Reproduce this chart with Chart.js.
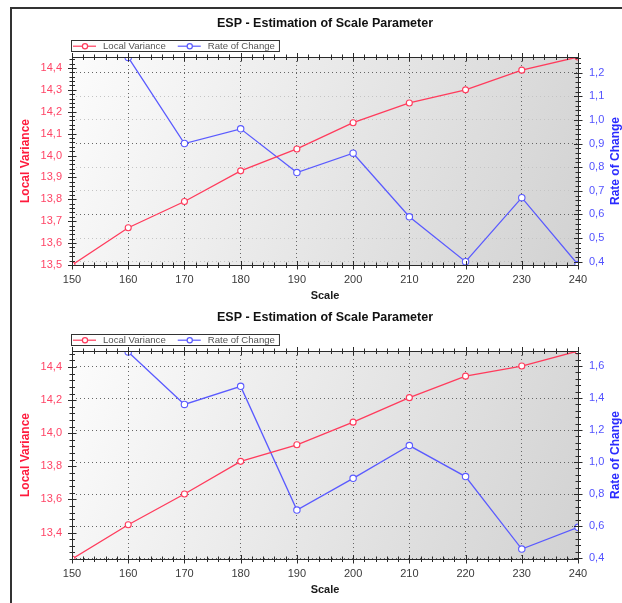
<!DOCTYPE html>
<html><head><meta charset="utf-8">
<script src="https://cdn.jsdelivr.net/npm/chart.js@4/dist/chart.umd.min.js"></script>
<style>
html,body{margin:0;padding:0;background:#fff;}
body{width:622px;height:603px;position:relative;overflow:hidden;}
#frame{position:absolute;left:10px;top:7px;width:700px;height:700px;border-top:2px solid #333;border-left:2px solid #333;}
.wrap{position:absolute;left:0;width:622px;height:303px;}
canvas{display:block;}
</style></head><body>
<div id="frame"></div>
<div class="wrap" style="top:0"><canvas id="c1" width="622" height="303"></canvas></div>
<div class="wrap" style="top:294px"><canvas id="c2" width="622" height="303"></canvas></div>
<script>
// ---- data ----
const chartTitle = 'ESP - Estimation of Scale Parameter';
const seriesNames = ['Local Variance', 'Rate of Change'];
const xAxisTitle = 'Scale';
const scaleValues = [150, 160, 170, 180, 190, 200, 210, 220, 230, 240];
const xTicks = [150, 160, 170, 180, 190, 200, 210, 220, 230, 240];

const topLocalVariance = [13.50, 13.67, 13.79, 13.93, 14.03, 14.15, 14.24, 14.30, 14.39, 14.45];
const topRateOfChange  = [null, 1.264, 0.90, 0.962, 0.777, 0.859, 0.59, 0.40, 0.671, 0.388];
const topLeftTicks  = [13.5, 13.6, 13.7, 13.8, 13.9, 14.0, 14.1, 14.2, 14.3, 14.4];
const topRightTicks = [0.4, 0.5, 0.6, 0.7, 0.8, 0.9, 1.0, 1.1, 1.2];
const topLeftRange  = [13.5, 14.45];
const topRightRange = [0.386, 1.266];

const bottomLocalVariance = [13.24, 13.447, 13.633, 13.83, 13.93, 14.067, 14.215, 14.345, 14.406, 14.497];
const bottomRateOfChange  = [null, 1.688, 1.36, 1.473, 0.70, 0.898, 1.103, 0.909, 0.456, 0.592];
const bottomLeftTicks  = [13.4, 13.6, 13.8, 14.0, 14.2, 14.4];
const bottomRightTicks = [0.4, 0.6, 0.8, 1.0, 1.2, 1.4, 1.6];
const bottomLeftRange  = [13.24, 14.497];
const bottomRightRange = [0.394, 1.694];

// ---- styling ----
const RED_LINE = '#ff3b5c', RED_TEXT = '#ff4466', RED_TITLE = '#ff1a3c';
const BLUE_LINE = '#5a5aff', BLUE_TEXT = '#5252ff', BLUE_TITLE = '#2a2aff';
const FONT = "'Liberation Sans', Arial, sans-serif";

function fmt(v){ return v.toFixed(1).replace('.', ','); }
function minorValues(ticks, min, max){
  const step = (ticks[1] - ticks[0]) / 5;
  const out = [];
  let start = ticks[0] - Math.floor((ticks[0] - min) / step + 1e-9) * step;
  for (let v = start; v <= max + 1e-9; v += step) out.push(v);
  return out;
}
function isMajor(v, ticks){ return ticks.some(t => Math.abs(t - v) < 1e-6); }

const decor = {
  id: 'decor',
  beforeDraw(chart){
    const {ctx, chartArea: a} = chart;
    const g = ctx.createLinearGradient(a.left, a.top, a.right, a.bottom);
    g.addColorStop(0, '#fcfcfc');
    g.addColorStop(1, '#d2d2d2');
    ctx.save();
    ctx.fillStyle = g;
    ctx.fillRect(a.left, a.top, a.right - a.left, a.bottom - a.top);
    ctx.restore();
  },
  afterDraw(chart, args, o){
    const {ctx, chartArea: a, scales} = chart;
    ctx.save();
    ctx.strokeStyle = '#2a2a2a';
    ctx.lineWidth = 1;
    ctx.strokeRect(a.left + 0.5, a.top + 0.5, a.right - a.left, a.bottom - a.top);
    ctx.beginPath();
    const xs = scales.x;
    minorValues(o.xTicks, xs.min, xs.max).forEach(v => {
      const p = Math.round(xs.getPixelForValue(v)) + 0.5;
      const len = isMajor(v, o.xTicks) ? 4 : 2.5;
      ctx.moveTo(p, a.bottom - len); ctx.lineTo(p, a.bottom + len + 0.5);
      ctx.moveTo(p, a.top - len); ctx.lineTo(p, a.top + len + 0.5);
    });
    const yl = scales.y;
    minorValues(o.leftTicks, yl.min, yl.max).forEach(v => {
      const p = Math.round(yl.getPixelForValue(v)) + 0.5;
      const len = isMajor(v, o.leftTicks) ? 4 : 2.5;
      ctx.moveTo(a.left - len, p); ctx.lineTo(a.left + len + 0.5, p);
    });
    const yr = scales.y1;
    minorValues(o.rightTicks, yr.min, yr.max).forEach(v => {
      const p = Math.round(yr.getPixelForValue(v)) + 0.5;
      const len = isMajor(v, o.rightTicks) ? 4 : 2.5;
      ctx.moveTo(a.right - len, p); ctx.lineTo(a.right + len + 0.5, p);
    });
    ctx.stroke();

    // title centred over plot area
    ctx.fillStyle = '#111';
    ctx.font = 'bold 12.5px ' + FONT;
    ctx.textAlign = 'center';
    ctx.textBaseline = 'middle';
    ctx.fillText(o.title, (a.left + a.right) / 2, a.top - 33);

    // legend with frame
    ctx.font = '9.6px ' + FONT;
    ctx.textAlign = 'left';
    const ly = a.top - 10.8;
    let x0 = a.left + 1;
    const items = chart.data.datasets.map(d => ({label: d.label, color: d.borderColor}));
    let endX = x0;
    items.forEach(it => {
      ctx.strokeStyle = it.color; ctx.lineWidth = 1.2;
      ctx.beginPath(); ctx.moveTo(x0, ly); ctx.lineTo(x0 + 23, ly); ctx.stroke();
      ctx.beginPath(); ctx.arc(x0 + 12, ly, 2.6, 0, Math.PI * 2);
      ctx.fillStyle = '#fff'; ctx.fill(); ctx.stroke();
      ctx.fillStyle = '#555';
      ctx.fillText(it.label, x0 + 30, ly + 0.5);
      const w = ctx.measureText(it.label).width;
      endX = x0 + 30 + w;
      x0 = endX + 12;
    });
    ctx.strokeStyle = '#333'; ctx.lineWidth = 1;
    ctx.strokeRect(a.left - 0.5, a.top - 16.5, endX + 5 - a.left, 11);

    // right axis title (reads bottom to top)
    ctx.save();
    ctx.translate(616, (a.top + a.bottom) / 2);
    ctx.rotate(-Math.PI / 2);
    ctx.font = 'bold 12px ' + FONT;
    ctx.fillStyle = BLUE_TITLE;
    ctx.textAlign = 'center';
    ctx.textBaseline = 'middle';
    ctx.fillText(o.rightTitle, 0, 0);
    ctx.restore();
    ctx.restore();
  }
};

function makeChart(id, lv, roc, leftTicks, rightTicks, leftRange, rightRange, strongGrid){
  const pts = arr => scaleValues.map((x, i) => ({x, y: arr[i]}));
  return new Chart(document.getElementById(id), {
    type: 'line',
    data: {
      datasets: [
        {label: seriesNames[0], data: pts(lv), yAxisID: 'y', borderColor: RED_LINE, backgroundColor: '#fff',
         borderWidth: 1.3, pointRadius: 3, pointBorderWidth: 1.1, pointBackgroundColor: '#fff', pointBorderColor: RED_LINE, tension: 0},
        {label: seriesNames[1], data: pts(roc), yAxisID: 'y1', borderColor: BLUE_LINE, backgroundColor: '#fff',
         borderWidth: 1.3, pointRadius: 3.2, pointBorderWidth: 1.1, pointBackgroundColor: '#fff', pointBorderColor: BLUE_LINE, tension: 0}
      ]
    },
    options: {
      responsive: false, animation: false, devicePixelRatio: 1,
      layout: {padding: {top: 57, left: 0, right: 0, bottom: 0}},
      plugins: {
        legend: {display: false}, title: {display: false}, tooltip: {enabled: false},
        decor: {title: chartTitle, xTicks, leftTicks, rightTicks, rightTitle: seriesNames[1]}
      },
      scales: {
        x: {
          type: 'linear', position: 'bottom', min: xTicks[0], max: xTicks[xTicks.length - 1],
          afterBuildTicks: s => { s.ticks = xTicks.map(v => ({value: v})); },
          afterFit: s => { s.height = 38; },
          ticks: {padding: 8, color: '#3a3a3a', font: {family: FONT, size: 11}, callback: v => String(v), maxRotation: 0, autoSkip: false},
          grid: {drawTicks: false, lineWidth: 1,
                 color: c => (c.tick && (c.tick.value === xTicks[0] || c.tick.value === xTicks[xTicks.length - 1])) ? 'rgba(0,0,0,0)' : '#666'},
          border: {display: false, dash: [1, 3]},
          title: {display: true, text: xAxisTitle, color: '#1a1a1a', font: {family: FONT, size: 11, weight: 'bold'}, padding: {top: 0, bottom: 0}}
        },
        y: {
          type: 'linear', position: 'left', min: leftRange[0], max: leftRange[1],
          afterBuildTicks: s => { s.ticks = leftTicks.map(v => ({value: v})); },
          afterFit: s => { s.width = 72; },
          ticks: {padding: 10, color: RED_TEXT, font: {family: FONT, size: 11}, callback: v => fmt(v), autoSkip: false},
          grid: {display: false, drawTicks: false},
          border: {display: false},
          title: {display: true, text: seriesNames[0], color: RED_TITLE, font: {family: FONT, size: 12, weight: 'bold'}, padding: {top: 18, bottom: 0}}
        },
        y1: {
          type: 'linear', position: 'right', min: rightRange[0], max: rightRange[1],
          afterBuildTicks: s => { s.ticks = rightTicks.map(v => ({value: v})); },
          afterFit: s => { s.width = 44; },
          ticks: {padding: 11, color: BLUE_TEXT, font: {family: FONT, size: 11}, callback: v => fmt(v), autoSkip: false},
          grid: {drawTicks: false, lineWidth: 1, color: c => (c.tick && strongGrid(c.tick.value)) ? '#666' : '#c4c4c4'},
          border: {display: false, dash: [1, 3]},
          title: {display: false}
        }
      }
    },
    plugins: [decor]
  });
}

makeChart('c1', topLocalVariance, topRateOfChange, topLeftTicks, topRightTicks, topLeftRange, topRightRange,
  v => Math.abs(Math.round(v * 10) % 3) === 0);
makeChart('c2', bottomLocalVariance, bottomRateOfChange, bottomLeftTicks, bottomRightTicks, bottomLeftRange, bottomRightRange,
  v => true);
</script></body></html>
